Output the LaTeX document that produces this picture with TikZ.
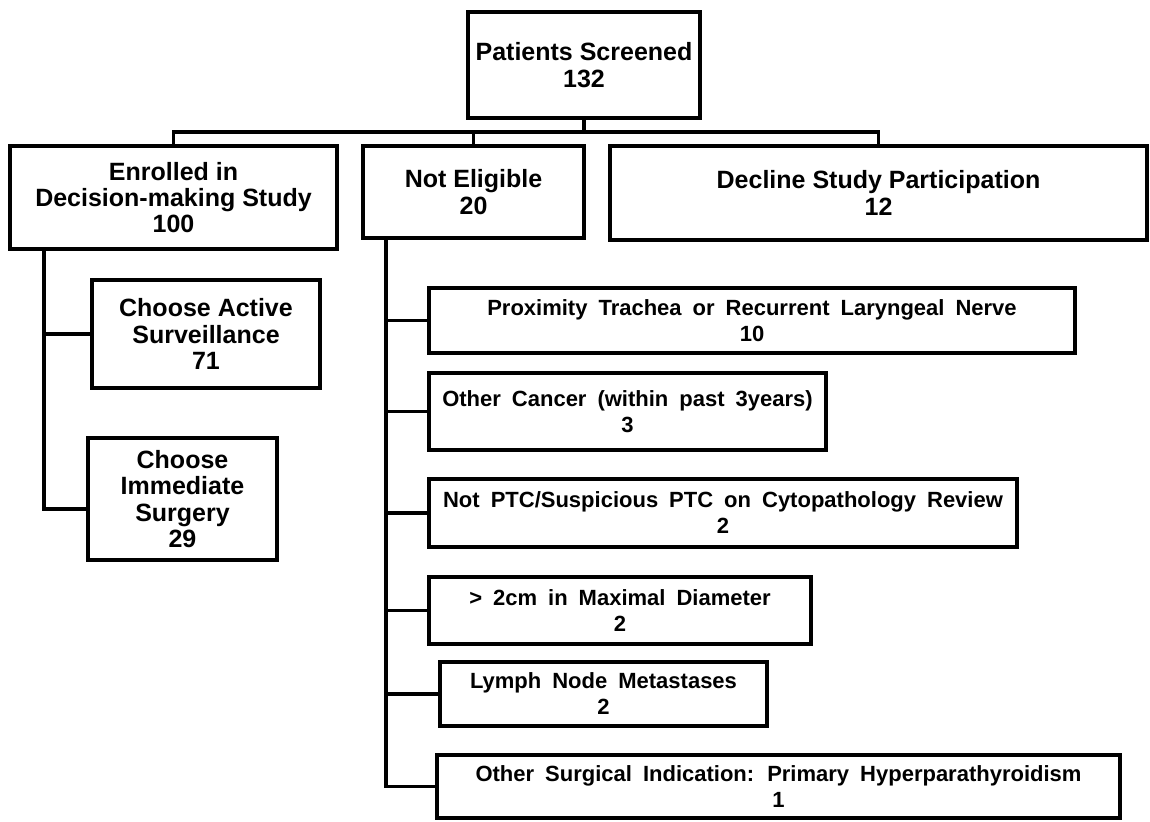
\documentclass[tikz,border=0pt]{standalone}
\usepackage{fontspec}
\setmainfont{Liberation Sans}
\newfontfamily\lowfont[WordSpace=1.8]{Liberation Sans}
\usetikzlibrary{calc}

\tikzset{
  box/.style={draw, rectangle, line width=1.7pt, align=center, inner sep=0pt,
    font=\fontsize{12.5}{13.2}\selectfont\bfseries},
  subbox/.style={box, font=\lowfont\fontsize{11}{13}\selectfont\bfseries},
  link/.style={line width=1.7pt},
}

\begin{document}
\begin{tikzpicture}[x=0.5pt, y=-0.5pt]
    \useasboundingbox (0,0) rectangle (1150,821);

    % top level
    \node[box, minimum width=116pt, minimum height=53pt] (screened) at (584,65) {Patients Screened\\132};
    \node[box, minimum width=163.5pt, minimum height=51.5pt] (enrolled) at (173.5,197.5) {Enrolled in\\Decision-making Study\\100};
    \node[box, minimum width=110.5pt, minimum height=46pt] (notelig) at (473.5,192) {Not Eligible\\20};
    \node[box, minimum width=268.5pt, minimum height=47pt] (decline) at (878.5,193) {Decline Study Participation\\12};

    \coordinate (bus) at (584,132);
    \draw[link] (screened.south) -- (bus);
    \draw[link] (enrolled.north) |- (bus) -| (decline.north);
    \draw[link] (notelig.north) |- (bus);

    % decision-making study
    \node[box, minimum width=114pt, minimum height=54pt] (active) at (206,334) {Choose Active\\Surveillance\\71};
    \node[box, minimum width=94.5pt, minimum height=61pt] (immediate) at (182.5,499) {Choose\\Immediate\\Surgery\\29};

    \coordinate (ltrunk) at (44,249);
    \draw[link] (ltrunk) |- ([yshift=-5pt]immediate.west);
    \draw[link] (active.west) -- (active.west -| ltrunk);

    % reasons not eligible
    \node[subbox, minimum width=323pt, minimum height=32.5pt] (prox) at (752,320.5) {Proximity Trachea or Recurrent Laryngeal Nerve\\10};
    \node[subbox, minimum width=198.5pt, minimum height=38.5pt] (cancer) at (627.5,411.5) {Other Cancer (within past 3years)\\3};
    \node[subbox, minimum width=294pt, minimum height=34pt] (ptc) at (723,513) {Not PTC/Suspicious PTC on Cytopathology Review\\2};
    \node[subbox, minimum width=191pt, minimum height=33.5pt] (diam) at (620,610.5) {> 2cm in Maximal Diameter\\2};
    \node[subbox, minimum width=163.5pt, minimum height=32pt] (lymph) at (603.5,694) {Lymph Node Metastases\\2};
    \node[subbox, minimum width=341.5pt, minimum height=31.5pt] (surg) at (778.5,786.5) {Other Surgical Indication: Primary Hyperparathyroidism\\1};

    \coordinate (rtrunk) at (386,238);
    \draw[link] (rtrunk) |- (surg.west);
    \foreach \n in {prox, cancer, ptc, diam, lymph} {
        \draw[link] (\n.west) -- (\n.west -| rtrunk);
    }
\end{tikzpicture}
\end{document}
